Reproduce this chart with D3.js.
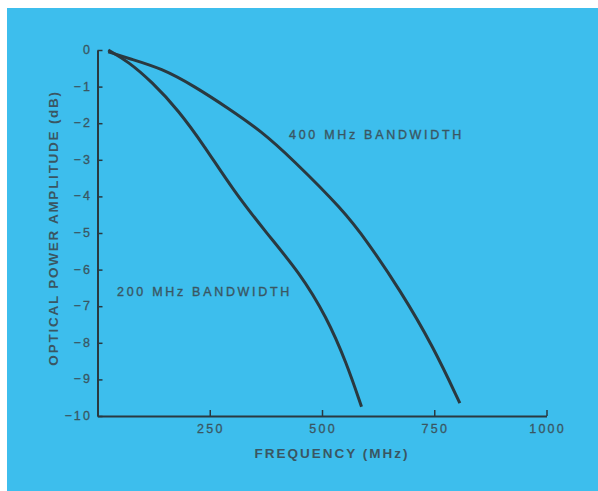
<!DOCTYPE html>
<html>
<head>
<meta charset="utf-8">
<script src="https://cdn.jsdelivr.net/npm/d3@7"></script>
<style>
  body { margin: 0; background: #fff; }
  svg { display: block; }
</style>
</head>
<body>
<div id="chart-area"></div>
<script>
// frequency (MHz) vs optical power amplitude (dB)
var freq200 = [24, 69, 121, 180, 239, 302, 377, 451, 510, 555, 588];
var amp200  = [0, -0.32, -0.87, -1.64, -2.64, -3.83, -5.01, -6.10, -7.29, -8.56, -9.75];

var freq400 = [24, 69, 143, 217, 291, 366, 432, 547, 600, 674, 748, 807];
var amp400  = [-0.05, -0.23, -0.50, -1.00, -1.59, -2.23, -2.96, -4.37, -5.22, -6.56, -8.11, -9.65];

var xTicks = [250, 500, 750, 1000];
var yTicks = [0, -1, -2, -3, -4, -5, -6, -7, -8, -9, -10];

var W = 598, H = 491;
var ink = "#2a3940", textInk = "#3a5662";
var font = "Liberation Sans, Arial, sans-serif";

var svg = d3.select("#chart-area")
	.append("svg")
		.attr("width", W)
		.attr("height", H);

//blue panel with white margin top/left
svg.append("rect").attr("width", W).attr("height", H).attr("fill", "#ffffff");
svg.append("rect")
	.attr("x", 7).attr("y", 8)
	.attr("width", W - 7).attr("height", H - 8)
	.attr("fill", "#3dbeed");

//scales
var x = d3.scaleLinear().domain([0, 1000]).range([97.5, 546.5]);
var y = d3.scaleLinear().domain([0, -10]).range([50, 416]);

//x axis, ticks pointing up
var xAxis = svg.append("g")
	.attr("transform", "translate(0," + y(-10) + ")")
	.call(d3.axisTop(x).tickValues(xTicks).tickSize(6).tickSizeOuter(0).tickFormat(""));
xAxis.select(".domain").attr("stroke", ink).attr("stroke-width", 2);
xAxis.selectAll(".tick line").attr("stroke", ink).attr("stroke-width", 1.5);

var tickSp = 2.2;
svg.selectAll(".xlab")
	.data(xTicks)
	.enter().append("text")
		.attr("x", function(d){ return x(d) + tickSp / 2; })
		.attr("y", y(-10) + 17)
		.attr("text-anchor", "middle")
		.attr("font-family", font)
		.attr("font-size", 12.5)
		.attr("letter-spacing", tickSp)
		.attr("fill", textInk)
		.attr("stroke", textInk)
		.attr("stroke-width", 0.3)
		.text(function(d){ return d; });

//y axis, ticks pointing right
var yAxis = svg.append("g")
	.attr("transform", "translate(" + x(0) + ",0)")
	.call(d3.axisRight(y).tickValues(yTicks).tickSize(5).tickSizeOuter(0).tickFormat(""));
yAxis.select(".domain").attr("stroke", ink).attr("stroke-width", 2);
yAxis.selectAll(".tick line").attr("stroke", ink).attr("stroke-width", 1.5);

svg.selectAll(".ylab")
	.data(yTicks)
	.enter().append("text")
		.attr("x", 90 + tickSp)
		.attr("y", function(d){ return y(d) + 4; })
		.attr("text-anchor", "end")
		.attr("font-family", font)
		.attr("font-size", 12.5)
		.attr("letter-spacing", tickSp)
		.attr("fill", textInk)
		.attr("stroke", textInk)
		.attr("stroke-width", 0.3)
		.text(function(d){ return d === 0 ? "0" : "\u2212" + Math.abs(d); });

//curves (smoothed through the read points)
var line = d3.line()
	.x(function(d){ return x(d[0]); })
	.y(function(d){ return y(d[1]); })
	.curve(d3.curveBasis);

function pairs(f, a) { return f.map(function(v, i){ return [v, a[i]]; }); }

[pairs(freq200, amp200), pairs(freq400, amp400)].forEach(function(pts){
	svg.append("path")
		.attr("d", line(pts))
		.attr("fill", "none")
		.attr("stroke", ink)
		.attr("stroke-width", 3)
		.attr("stroke-linecap", "butt");
});

//annotations
function label(txt, px, py, opts) {
	var sp = opts.spacing || 0;
	var shift = opts.anchor === "middle" ? sp / 2 : 0;
	var t = svg.append("text")
		.attr("x", px + (opts.rotate ? 0 : shift))
		.attr("y", py + (opts.rotate ? shift : 0))
		.attr("font-family", font)
		.attr("font-size", opts.size)
		.attr("font-weight", opts.weight || "normal")
		.attr("letter-spacing", sp)
		.attr("fill", textInk)
		.attr("stroke", opts.weight ? "none" : textInk)
		.attr("stroke-width", 0.35)
		.attr("text-anchor", opts.anchor || "start")
		.text(txt);
	if (opts.rotate) t.attr("transform", "rotate(-90," + px + "," + (py + shift) + ")");
	return t;
}

label("400 MHz BANDWIDTH", 289, 139, {size: 12.5, spacing: 2.7});
label("200 MHz BANDWIDTH", 117, 296, {size: 12.5, spacing: 2.7});

label("FREQUENCY (MHz)", 331, 458, {size: 13.5, weight: "bold", anchor: "middle", spacing: 2});
label("OPTICAL POWER AMPLITUDE (dB)", 58, 227, {size: 13.5, weight: "bold", anchor: "middle", spacing: 1.75, rotate: true});
</script>
</body>
</html>
